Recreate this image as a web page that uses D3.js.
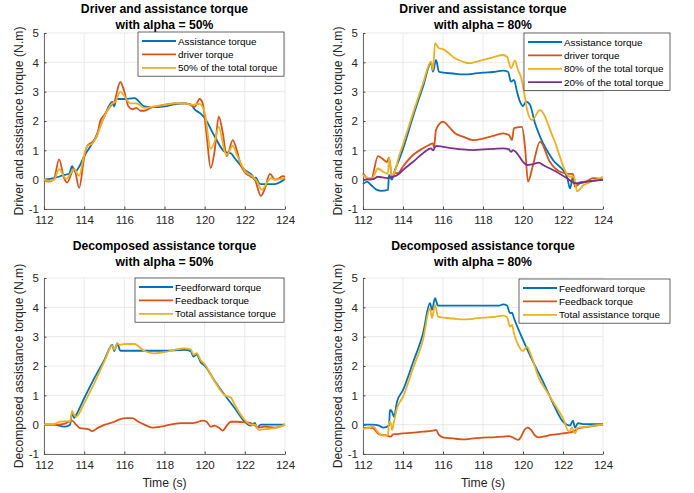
<!DOCTYPE html>
<html>
<head>
<script src="https://d3js.org/d3.v7.min.js"></script>
<style>
	body { margin: 0; background: #fff; }
	text { font-family: "Liberation Sans", Arial, Helvetica, sans-serif; }
</style>
</head>
<body>
<script>
	var width = 694;
	var height = 493;

	// MATLAB default line colours
	var blue = "#0072BD", red = "#D95319", yellow = "#EDB120", purple = "#7E2F8E";

	var xTicks = [112, 114, 116, 118, 120, 122, 124];
	var yTicks = [-1, 0, 1, 2, 3, 4, 5];

	// ---- top left : alpha = 50%
	var p1AssistT = [112, 112.5, 113, 113.25, 113.4, 113.55, 113.75, 114, 114.25, 114.5, 115, 115.4, 115.5, 115.6, 116, 116.5, 117, 117.5, 118, 118.5, 119, 119.3, 119.5, 119.8, 120, 120.5, 121, 121.3, 121.5, 122, 122.4, 122.5, 122.55, 122.7, 122.8, 123.5, 124];
	var p1AssistV = [0, 0.05, 0.16, 0.2, 0.46, 0.27, 0.44, 0.8, 1.07, 1.35, 2.15, 2.65, 2.5, 2.75, 2.75, 2.78, 2.5, 2.47, 2.5, 2.57, 2.6, 2.57, 2.4, 2.25, 2.1, 1.47, 0.95, 0.9, 0.73, 0.33, 0.12, 0.0, 0.08, -0.12, -0.15, -0.15, 0.02];
	var p1DriverT = [112, 112.25, 112.5, 112.75, 113.0, 113.15, 113.5, 113.75, 114, 114.15, 114.4, 114.65, 114.8, 115, 115.3, 115.5, 115.8, 116, 116.2, 116.4, 116.6, 116.8, 117, 117.3, 117.6, 118, 118.5, 119, 119.3, 119.5, 119.75, 119.9, 120.1, 120.3, 120.5, 120.7, 120.9, 121.1, 121.4, 121.6, 121.8, 122, 122.3, 122.5, 122.8, 123, 123.25, 123.5, 123.7, 123.9, 124];
	var p1DriverV = [0, -0.07, 0.03, 0.69, 0.05, -0.1, 0.38, -0.28, 0.75, 1.15, 1.28, 1.52, 2.0, 2.2, 2.5, 2.65, 3.33, 3.0, 2.5, 2.4, 2.45, 2.35, 2.35, 2.45, 2.5, 2.55, 2.6, 2.6, 2.55, 2.48, 2.75, 2.6, 1.5, 0.4, 1.0, 2.15, 1.6, 0.8, 1.35, 1.0, 0.5, 0.25, 0.1, 0.0, -0.55, -0.3, 0.2, 0.0, 0.05, 0.12, 0.1];
	var p1HalfT = [112, 112.25, 112.5, 112.75, 113.1, 113.5, 113.75, 114, 114.15, 114.4, 114.6, 115, 115.4, 115.55, 115.8, 116, 116.3, 116.6, 117, 117.5, 118, 118.5, 119, 119.4, 119.75, 120, 120.3, 120.5, 120.7, 121.0, 121.1, 121.4, 121.6, 122, 122.4, 122.6, 122.85, 123.1, 123.3, 123.5, 124];
	var p1HalfV = [0, -0.04, 0.0, 0.36, 0.03, 0.35, 0.14, 0.85, 1.15, 1.22, 1.45, 2.15, 2.6, 2.65, 3.0, 2.85, 2.6, 2.6, 2.45, 2.5, 2.55, 2.6, 2.6, 2.55, 2.58, 2.3, 1.05, 1.3, 1.8, 0.95, 0.85, 1.15, 0.85, 0.3, 0.1, -0.05, -0.35, -0.1, 0.05, 0.0, 0.05];

	// ---- top right : alpha = 80%
	var p2AssistT = [112, 112.2, 112.4, 112.7, 112.9, 113.25, 113.3, 113.45, 113.5, 113.6, 113.8, 114, 114.5, 115, 115.4, 115.5, 115.65, 115.8, 116, 116.5, 117, 117.5, 118, 118.5, 119, 119.25, 119.4, 119.55, 119.7, 119.85, 120, 120.15, 120.35, 120.6, 120.85, 121.5, 122.2, 122.35, 122.5, 122.6, 122.85, 123.2, 124];
	var p2AssistV = [-0.15, -0.07, -0.18, -0.35, -0.38, -0.35, 0.16, 0.0, 0.1, 0.33, 0.67, 1.05, 2.15, 3.17, 3.97, 3.68, 4.08, 3.68, 3.65, 3.62, 3.59, 3.61, 3.65, 3.67, 3.72, 3.68, 3.34, 3.4, 3.0, 2.66, 2.51, 2.66, 2.55, 1.92, 1.47, 0.67, 0.1, -0.3, 0.1, -0.24, -0.12, -0.07, 0];
	var p2DriverT = [112, 112.2, 112.4, 112.75, 113, 113.2, 113.3, 113.45, 113.6, 113.75, 114, 114.5, 115, 115.3, 115.5, 115.55, 115.65, 116, 116.3, 116.6, 117, 117.5, 118, 118.5, 119, 119.3, 119.45, 119.55, 119.7, 119.95, 120.1, 120.25, 120.5, 120.85, 121.35, 121.85, 122.3, 122.5, 122.6, 122.8, 123.2, 123.5, 124];
	var p2DriverV = [0.22, 0.05, 0.0, 0.8, 0.7, 0.6, 0.76, 0.1, 0.22, 0.22, 0.45, 0.84, 1.07, 1.18, 1.24, 1.1, 1.7, 1.98, 1.8, 1.58, 1.47, 1.35, 1.4, 1.49, 1.58, 1.52, 1.35, 1.75, 1.78, 1.8, 1.12, -0.07, 0.5, 1.3, 0.6, 0.27, 0.2, 0.2, -0.24, -0.1, -0.05, 0.05, 0.0];
	var p2EightyT = [112, 112.3, 112.45, 112.75, 113, 113.25, 113.3, 113.45, 113.55, 113.8, 114, 114.5, 115, 115.4, 115.5, 115.6, 115.8, 116, 116.3, 116.6, 117, 117.3, 117.5, 118, 118.5, 119, 119.2, 119.4, 119.6, 119.75, 119.9, 120.05, 120.2, 120.45, 120.85, 121.5, 122.35, 122.55, 122.7, 123, 123.5, 124];
	var p2EightyV = [0.15, 0.05, 0.05, 0.38, 0.27, 0.2, 0.75, 0.15, 0.2, 0.8, 1.2, 2.26, 3.28, 4.02, 3.74, 4.65, 4.48, 4.45, 4.3, 4.14, 4.02, 3.97, 3.99, 4.08, 4.17, 4.25, 4.19, 3.8, 4.06, 3.74, 3.5, 3.0, 2.4, 2.03, 2.37, 1.45, 0.1, 0.1, -0.4, -0.2, -0.05, 0.1];
	var p2TwentyT = [112, 112.5, 112.75, 113.2, 113.5, 113.7, 114, 114.5, 115, 115.4, 115.5, 115.65, 116, 116.5, 117, 117.5, 118, 118.5, 119, 119.3, 119.4, 119.5, 119.7, 120, 120.2, 120.5, 120.8, 121, 121.5, 122.2, 122.6, 123.2, 124];
	var p2TwentyV = [0, 0.02, 0.1, 0.05, 0.1, 0.15, 0.33, 0.61, 0.9, 1.07, 1.0, 1.15, 1.12, 1.07, 1.03, 1.01, 1.03, 1.05, 1.07, 1.03, 0.95, 1.01, 0.9, 0.61, 0.5, 0.53, 0.58, 0.5, 0.33, 0.05, -0.12, -0.07, 0];

	// ---- bottom left : decomposed, alpha = 50%
	var p3FfT = [112, 112.5, 113, 113.3, 113.4, 113.5, 113.6, 114, 114.5, 115, 115.4, 115.5, 115.65, 115.8, 116, 117, 118, 119, 119.3, 119.45, 119.6, 119.8, 120, 120.5, 121, 121.5, 122, 122.3, 122.5, 122.6, 122.8, 123, 124];
	var p3FfV = [0, 0, -0.07, 0, 0.42, 0.22, 0.33, 0.9, 1.58, 2.2, 2.72, 2.51, 2.77, 2.52, 2.52, 2.52, 2.52, 2.55, 2.51, 2.32, 2.4, 2.13, 2.01, 1.49, 1.01, 0.56, 0.1, -0.03, 0.06, -0.1, 0, 0, 0];
	var p3FbT = [112, 112.5, 113, 113.4, 113.6, 113.8, 114.2, 114.4, 114.7, 115, 115.5, 115.8, 116.1, 116.4, 116.7, 117, 117.4, 117.8, 118.3, 118.8, 119.3, 119.6, 119.9, 120.1, 120.3, 120.5, 120.7, 120.9, 121.1, 121.3, 121.6, 122, 122.3, 122.5, 122.7, 123, 123.5, 124];
	var p3FbV = [0, 0, 0.03, 0.14, 0, -0.12, -0.15, -0.22, -0.1, -0.01, 0.1, 0.19, 0.22, 0.22, 0.1, 0, -0.1, -0.07, 0, 0.05, 0.05, 0.08, 0.14, 0.1, -0.07, -0.03, -0.1, -0.2, -0.03, 0.1, 0.1, 0.08, 0.05, -0.03, -0.1, -0.07, -0.1, 0];
	var p3TotT = [112, 112.5, 112.8, 113.2, 113.3, 113.4, 113.5, 113.6, 114, 114.5, 115, 115.4, 115.5, 115.65, 115.8, 116, 116.5, 117, 117.5, 118, 118.5, 119, 119.3, 119.45, 119.6, 119.8, 120, 120.5, 121, 121.3, 121.5, 122, 122.3, 122.5, 122.7, 123, 123.5, 124];
	var p3TotV = [0, 0.02, 0.1, 0.12, 0.1, 0.47, 0.33, 0.27, 0.73, 1.41, 2.15, 2.69, 2.55, 2.77, 2.72, 2.75, 2.75, 2.51, 2.43, 2.47, 2.55, 2.6, 2.57, 2.38, 2.44, 2.2, 2.06, 1.47, 1.0, 0.93, 0.67, 0.16, 0, 0, -0.18, -0.15, -0.12, 0];

	// ---- bottom right : decomposed, alpha = 80%
	var p4FfT = [112, 112.5, 112.8, 113, 113.3, 113.35, 113.45, 113.55, 113.7, 114, 114.5, 115, 115.35, 115.45, 115.6, 115.75, 116, 117, 118, 118.8, 119, 119.2, 119.35, 119.45, 119.55, 120, 120.5, 121, 121.5, 122, 122.35, 122.5, 122.6, 122.75, 123, 124];
	var p4FfV = [0, 0, -0.03, -0.1, -0.03, 0.5, 0.44, 0.27, 0.78, 1.18, 2.12, 3.11, 4.14, 3.91, 4.31, 4.06, 4.06, 4.06, 4.06, 4.06, 4.1, 4.06, 3.8, 3.82, 3.63, 2.89, 2.15, 1.47, 0.73, 0.1, -0.03, 0.14, -0.1, 0.05, 0.02, 0.02];
	var p4FbT = [112, 112.3, 112.5, 112.8, 113, 113.2, 113.4, 113.5, 113.7, 114, 114.5, 115, 115.5, 115.65, 115.8, 116, 116.5, 117, 117.5, 118, 118.5, 119, 119.3, 119.5, 119.75, 119.85, 120.1, 120.25, 120.4, 120.6, 120.8, 121, 121.4, 122, 122.3, 122.5, 122.8, 123.3, 124];
	var p4FbV = [-0.12, -0.1, -0.12, -0.33, -0.35, -0.37, -0.41, -0.33, -0.32, -0.3, -0.27, -0.24, -0.2, -0.18, -0.35, -0.43, -0.47, -0.5, -0.47, -0.44, -0.43, -0.41, -0.39, -0.44, -0.52, -0.47, -0.15, -0.1, -0.18, -0.37, -0.43, -0.41, -0.35, -0.3, -0.27, -0.24, -0.12, -0.07, 0];
	var p4TotT = [112, 112.3, 112.5, 112.8, 113, 113.25, 113.3, 113.4, 113.45, 113.55, 113.7, 114, 114.5, 115, 115.35, 115.45, 115.6, 115.75, 116, 116.5, 117, 117.5, 118, 118.5, 119, 119.2, 119.35, 119.45, 119.55, 119.8, 120, 120.2, 120.4, 120.8, 121.2, 121.5, 122, 122.3, 122.45, 122.6, 122.75, 123.2, 123.5, 124];
	var p4TotV = [-0.15, -0.1, -0.07, -0.3, -0.37, -0.35, 0.1, 0.05, -0.18, 0.1, 0.56, 0.95, 1.92, 2.89, 3.97, 3.63, 4.08, 3.68, 3.65, 3.62, 3.59, 3.61, 3.65, 3.67, 3.72, 3.67, 3.34, 3.4, 3.11, 2.66, 2.51, 2.66, 2.37, 1.58, 1.12, 0.78, 0.22, -0.24, -0.1, -0.3, -0.1, -0.07, -0.03, 0];

	function pts(t, v) { return t.map(function(d, i) { return [d, v[i]]; }); }

	var panels = [
		{ left: 44, top: 33, w: 241, h: 176,
		  title: ["Driver and assistance torque", "with alpha = 50%"], titleY: 13,
		  ylabel: "Driver and assistance torque (N.m)", xlabel: null,
		  legend: { x: 138, y: 32, w: 146 },
		  series: [
			{ name: "Assistance torque", color: blue, data: pts(p1AssistT, p1AssistV) },
			{ name: "driver torque", color: red, data: pts(p1DriverT, p1DriverV) },
			{ name: "50% of the total torque", color: yellow, data: pts(p1HalfT, p1HalfV) } ] },
		{ left: 363, top: 33, w: 240, h: 176,
		  title: ["Driver and assistance torque", "with alpha = 80%"], titleY: 13,
		  ylabel: "Driver and assistance torque (N.m)", xlabel: null,
		  legend: { x: 524, y: 33, w: 146 },
		  series: [
			{ name: "Assistance torque", color: blue, data: pts(p2AssistT, p2AssistV) },
			{ name: "driver torque", color: red, data: pts(p2DriverT, p2DriverV) },
			{ name: "80% of the total torque", color: yellow, data: pts(p2EightyT, p2EightyV) },
			{ name: "20% of the total torque", color: purple, data: pts(p2TwentyT, p2TwentyV) } ] },
		{ left: 44, top: 278, w: 241, h: 176,
		  title: ["Decomposed assistance torque", "with alpha = 50%"], titleY: 250,
		  ylabel: "Decomposed assistance torque (N.m)", xlabel: "Time (s)",
		  legend: { x: 135, y: 278, w: 149 },
		  series: [
			{ name: "Feedforward torque", color: blue, data: pts(p3FfT, p3FfV) },
			{ name: "Feedback torque", color: red, data: pts(p3FbT, p3FbV) },
			{ name: "Total assistance torque", color: yellow, data: pts(p3TotT, p3TotV) } ] },
		{ left: 363, top: 278, w: 240, h: 176,
		  title: ["Decomposed assistance torque", "with alpha = 80%"], titleY: 250,
		  ylabel: "Decomposed assistance torque (N.m)", xlabel: "Time (s)",
		  legend: { x: 519, y: 279, w: 151 },
		  series: [
			{ name: "Feedforward torque", color: blue, data: pts(p4FfT, p4FfV) },
			{ name: "Feedback torque", color: red, data: pts(p4FbT, p4FbV) },
			{ name: "Total assistance torque", color: yellow, data: pts(p4TotT, p4TotV) } ] }
	];

	var svg = d3.select("body")
		.append("svg")
		.attr("width", width)
		.attr("height", height);

	var fmt = function(d) { return String(d); };  // plain hyphen minus, no decimals

	panels.forEach(function(p) {
		var x = d3.scaleLinear().domain([112, 124]).range([p.left, p.left + p.w]);
		var y = d3.scaleLinear().domain([-1, 5]).range([p.top + p.h, p.top]);
		var g = svg.append("g");

		// grid
		g.selectAll(".gx").data(xTicks).enter().append("line")
			.attr("x1", d => x(d)).attr("x2", d => x(d))
			.attr("y1", p.top).attr("y2", p.top + p.h)
			.attr("stroke", "#e3e3e3").attr("stroke-width", 0.8);
		g.selectAll(".gy").data(yTicks).enter().append("line")
			.attr("x1", p.left).attr("x2", p.left + p.w)
			.attr("y1", d => y(d)).attr("y2", d => y(d))
			.attr("stroke", "#e3e3e3").attr("stroke-width", 0.8);

		// axes, ticks pointing inward
		var ax = g.append("g")
			.attr("transform", "translate(0," + (p.top + p.h) + ")")
			.call(d3.axisBottom(x).tickValues(xTicks).tickFormat(fmt).tickSizeInner(-2.5).tickSizeOuter(0).tickPadding(7));
		var ay = g.append("g")
			.attr("transform", "translate(" + p.left + ",0)")
			.call(d3.axisLeft(y).tickValues(yTicks).tickFormat(fmt).tickSizeInner(-2.5).tickSizeOuter(0).tickPadding(5));
		[ax, ay].forEach(function(a) {
			a.select(".domain").attr("stroke", "#4a4a4a").attr("stroke-width", 0.8);
			a.selectAll(".tick line").attr("stroke", "#4a4a4a");
			a.selectAll("text").attr("fill", "#262626").style("font-size", "11.5px")
				.style("font-family", "'Liberation Sans', Arial, sans-serif");
		});

		// curves
		var line = d3.line()
			.x(d => x(d[0]))
			.y(d => y(d[1]))
			.curve(d3.curveMonotoneX);
		p.series.forEach(function(s) {
			g.append("path")
				.attr("d", line(s.data))
				.attr("fill", "none")
				.attr("stroke", s.color)
				.attr("stroke-width", 1.8)
				.attr("stroke-linejoin", "round");
		});

		// titles
		var cx = p.left + p.w / 2;
		p.title.forEach(function(t, i) {
			g.append("text")
				.attr("x", cx).attr("y", p.titleY + i * 16)
				.attr("text-anchor", "middle")
				.style("font-size", "12.2px").style("font-weight", "bold")
				.attr("fill", "#000")
				.text(t);
		});

		// y label
		g.append("text")
			.attr("transform", "translate(" + (p.left - 21) + "," + (p.top + p.h / 2) + ") rotate(-90)")
			.attr("text-anchor", "middle")
			.style("font-size", "12.2px")
			.attr("fill", "#262626")
			.text(p.ylabel);

		if (p.xlabel) {
			g.append("text")
				.attr("x", cx).attr("y", p.top + p.h + 33)
				.attr("text-anchor", "middle")
				.style("font-size", "12.2px")
				.attr("fill", "#262626")
				.text(p.xlabel);
		}

		// legend
		var L = p.legend, rowH = 13.4;
		var lg = g.append("g");
		lg.append("rect")
			.attr("x", L.x).attr("y", L.y)
			.attr("width", L.w).attr("height", p.series.length * rowH + 4)
			.attr("fill", "#fff").attr("stroke", "#262626").attr("stroke-width", 0.7);
		p.series.forEach(function(s, i) {
			var yy = L.y + 9 + i * rowH;
			lg.append("line")
				.attr("x1", L.x + 4).attr("x2", L.x + 38)
				.attr("y1", yy).attr("y2", yy)
				.attr("stroke", s.color).attr("stroke-width", 1.8);
			lg.append("text")
				.attr("x", L.x + 40).attr("y", yy + 3.5)
				.style("font-size", "9.9px")
				.attr("fill", "#000")
				.text(s.name);
		});
	});
</script>
</body>
</html>
